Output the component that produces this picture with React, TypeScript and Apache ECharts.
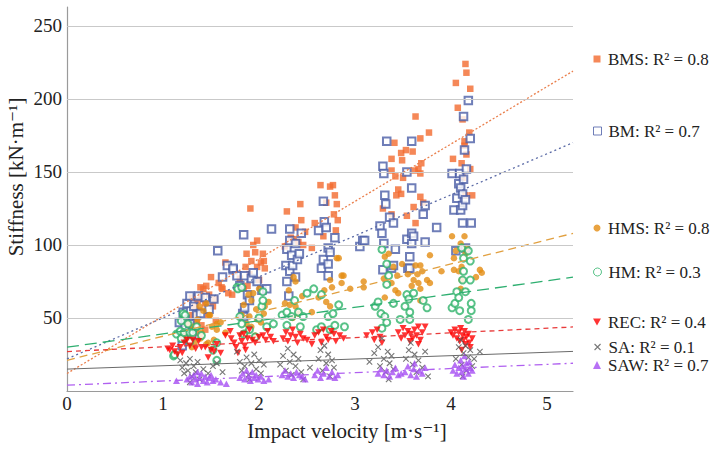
import React, { useEffect, useRef } from "react";
import * as echarts from "echarts";

const seriesNames = ["BMS", "BM", "HMS", "HM", "REC", "SA", "SAW"];
const r2Values = ["0.8", "0.7", "0.8", "0.3", "0.4", "0.1", "0.7"];
const trendIntercepts = [12, 22, 21, 30, 27, 15, 4];
const trendSlopes = [39.3, 28.1, 16.5, 9.1, 3.2, 2.3, 2.85];
const yTicks = [50, 100, 150, 200, 250];
const xMaxValue = 5.27;

const bmsData = [
  [1.25, 38], [1.28, 45], [1.3, 52], [1.3, 64], [1.32, 58], [1.34, 40], [1.35, 48], [1.36, 62], [1.38, 55], [1.39, 71],
  [1.4, 65], [1.4, 45], [1.42, 70], [1.44, 60], [1.44, 42], [1.45, 72], [1.47, 52], [1.48, 66], [1.5, 78], [1.52, 58],
  [1.54, 63], [1.55, 48], [1.58, 74], [1.61, 71], [1.62, 70], [1.65, 88], [1.68, 67],
  [1.72, 66], [1.8, 77], [1.84, 70], [1.86, 85], [1.87, 94], [1.88, 72], [1.9, 80], [1.91, 125], [1.92, 89], [1.94, 100],
  [1.96, 95], [1.98, 103], [1.98, 85], [2.0, 76], [2.02, 88], [2.04, 94], [2.05, 89], [2.06, 84],
  [2.27, 99], [2.29, 123], [2.33, 105], [2.36, 104], [2.38, 112], [2.41, 102], [2.43, 128], [2.44, 117], [2.46, 100],
  [2.48, 109], [2.55, 98], [2.58, 115], [2.64, 141], [2.67, 106], [2.7, 129], [2.74, 140], [2.77, 141], [2.78, 121],
  [2.79, 134], [2.8, 110], [2.81, 128], [2.82, 117],
  [3.29, 125], [3.38, 159], [3.38, 151], [3.38, 121], [3.41, 170], [3.42, 147], [3.43, 134], [3.45, 138], [3.48, 163],
  [3.48, 135], [3.49, 158], [3.5, 146], [3.53, 165], [3.54, 120], [3.6, 164], [3.61, 126], [3.62, 151], [3.63, 188],
  [3.63, 115], [3.66, 152], [3.68, 173], [3.68, 149], [3.68, 133], [3.69, 156], [3.71, 129], [3.77, 177],
  [4.02, 159], [4.05, 211], [4.07, 194], [4.11, 156], [4.12, 186], [4.12, 146], [4.14, 171], [4.14, 168], [4.15, 224],
  [4.15, 134], [4.16, 218], [4.16, 162], [4.19, 177], [4.2, 207], [4.2, 152], [4.22, 134],
];

const bmData = [
  [1.17, 47], [1.2, 31], [1.21, 54], [1.23, 44], [1.23, 49], [1.25, 60], [1.28, 46], [1.28, 65], [1.3, 38], [1.32, 58],
  [1.35, 52], [1.37, 65], [1.39, 53], [1.44, 64], [1.48, 56], [1.53, 63], [1.57, 96], [1.62, 78], [1.67, 86], [1.73, 83],
  [1.73, 84], [1.77, 79], [1.8, 72], [1.83, 53], [1.84, 107], [1.84, 51], [1.85, 79], [1.85, 57], [1.88, 66], [1.9, 62],
  [1.92, 77], [1.94, 81], [1.98, 75], [2.03, 69], [2.08, 70], [2.13, 111],
  [2.28, 86], [2.29, 97], [2.29, 75], [2.31, 65], [2.32, 111], [2.32, 103], [2.32, 82], [2.34, 93], [2.35, 86], [2.38, 101],
  [2.38, 78], [2.4, 90], [2.42, 94], [2.44, 108], [2.62, 110], [2.65, 84], [2.67, 130], [2.67, 90], [2.68, 116], [2.7, 112],
  [2.72, 98], [2.72, 79], [2.72, 87], [2.74, 95], [2.79, 105],
  [3.05, 99], [3.08, 103], [3.1, 103], [3.26, 113], [3.28, 108], [3.29, 154], [3.29, 83], [3.3, 149], [3.3, 101], [3.31, 134],
  [3.32, 128], [3.33, 171], [3.36, 119], [3.38, 84], [3.4, 115], [3.4, 86], [3.42, 97], [3.54, 150], [3.54, 104], [3.55, 84],
  [3.57, 84], [3.57, 92], [3.59, 171], [3.59, 139], [3.59, 108], [3.59, 101], [3.61, 106], [3.71, 121], [3.73, 127],
  [3.73, 102], [3.85, 112],
  [4.01, 149], [4.03, 124], [4.05, 96], [4.06, 132], [4.08, 142], [4.09, 149], [4.1, 139], [4.1, 124], [4.12, 135],
  [4.12, 127], [4.12, 115], [4.13, 188], [4.13, 145], [4.14, 165], [4.15, 131], [4.15, 98], [4.16, 152], [4.18, 199],
  [4.2, 173], [4.21, 115],
];

const hmsData = [
  [1.2, 38], [1.26, 46], [1.3, 30], [1.31, 44], [1.33, 33], [1.36, 49], [1.38, 58], [1.39, 36], [1.4, 40], [1.42, 55],
  [1.45, 60], [1.45, 32], [1.47, 33], [1.48, 52], [1.49, 52], [1.51, 44], [1.53, 35], [1.56, 42], [1.56, 46], [1.6, 47],
  [1.65, 40],
  [1.82, 52], [1.84, 59], [1.86, 40], [1.87, 46], [1.89, 66], [1.9, 51], [1.92, 62], [1.92, 44], [1.94, 67], [1.96, 38],
  [1.97, 56], [1.98, 49], [2.0, 70], [2.02, 47], [2.05, 53], [2.06, 58], [2.1, 61],
  [2.27, 60], [2.31, 69], [2.32, 59], [2.35, 50], [2.36, 78], [2.38, 75], [2.38, 58], [2.41, 53], [2.45, 65], [2.55, 54],
  [2.62, 64], [2.68, 69], [2.7, 61], [2.74, 76], [2.74, 58], [2.76, 71], [2.81, 91], [2.83, 91], [2.86, 79], [2.86, 74],
  [2.88, 79], [2.95, 70], [3.09, 75], [3.09, 71],
  [3.3, 77], [3.31, 92], [3.31, 64], [3.35, 94], [3.38, 74], [3.4, 85], [3.42, 69], [3.44, 79], [3.45, 67], [3.49, 87],
  [3.55, 80], [3.59, 72], [3.61, 76], [3.63, 86], [3.65, 80], [3.66, 74], [3.68, 86], [3.68, 70], [3.68, 62], [3.7, 82],
  [3.75, 76], [3.78, 93], [3.78, 74],
  [3.9, 82], [4.01, 106], [4.03, 91], [4.03, 83], [4.05, 96], [4.08, 82], [4.1, 101], [4.1, 70], [4.11, 85], [4.11, 76],
  [4.14, 106], [4.15, 94], [4.16, 98], [4.26, 78], [4.3, 83], [4.32, 81],
];

const hmData = [
  [1.11, 24], [1.12, 25], [1.14, 39], [1.18, 41], [1.19, 48], [1.19, 36], [1.21, 53], [1.22, 40], [1.23, 52], [1.26, 46],
  [1.28, 34], [1.28, 40], [1.31, 40], [1.35, 44], [1.4, 38], [1.52, 28], [1.56, 33], [1.56, 21], [1.77, 71],
  [1.78, 70], [1.8, 51], [1.82, 71], [1.82, 46], [1.84, 39], [1.9, 42], [1.96, 37], [2.0, 50], [2.03, 58], [2.04, 68],
  [2.04, 62], [2.08, 44], [2.15, 46],
  [2.24, 52], [2.29, 54], [2.29, 45], [2.34, 51], [2.37, 62], [2.41, 54], [2.43, 44], [2.46, 51], [2.5, 67], [2.57, 70],
  [2.6, 42], [2.65, 66], [2.65, 44], [2.72, 51], [2.74, 42], [2.77, 53], [2.79, 45], [2.83, 59], [2.89, 44],
  [3.21, 58], [3.24, 61], [3.27, 53], [3.28, 43], [3.28, 97], [3.31, 51], [3.33, 47], [3.33, 73], [3.33, 87], [3.35, 79],
  [3.4, 60], [3.47, 49], [3.52, 58], [3.54, 66], [3.56, 63], [3.57, 54], [3.57, 49], [3.61, 67], [3.71, 62], [3.75, 57],
  [4.01, 57], [4.04, 60], [4.06, 68], [4.08, 64], [4.09, 55], [4.11, 98], [4.12, 76], [4.13, 91], [4.13, 82], [4.15, 68],
  [4.18, 96], [4.18, 49], [4.2, 89], [4.2, 76], [4.21, 60], [4.21, 55],
];

const recData = [
  [1.05, 29], [1.07, 28], [1.1, 31], [1.12, 27], [1.15, 25], [1.18, 30], [1.2, 26], [1.22, 33], [1.25, 35], [1.28, 31],
  [1.31, 35], [1.34, 29], [1.37, 34], [1.4, 30], [1.44, 30], [1.47, 23], [1.5, 28], [1.53, 27], [1.56, 32], [1.6, 26],
  [1.65, 38], [1.7, 41], [1.71, 36], [1.74, 33],
  [1.76, 30], [1.78, 26], [1.8, 38], [1.82, 34], [1.84, 39], [1.85, 31], [1.86, 28], [1.88, 36], [1.9, 42], [1.93, 35],
  [1.96, 33], [2.0, 37], [2.04, 38], [2.07, 35], [2.09, 41], [2.12, 37], [2.15, 34],
  [2.25, 36], [2.28, 40], [2.3, 34], [2.33, 38], [2.35, 42], [2.38, 37], [2.4, 33], [2.43, 39], [2.46, 36], [2.5, 35],
  [2.55, 32], [2.58, 38], [2.62, 40], [2.65, 33], [2.67, 42], [2.7, 37], [2.72, 35], [2.75, 41], [2.78, 39], [2.8, 34],
  [2.84, 38], [2.88, 36],
  [3.12, 38], [3.18, 40], [3.2, 35], [3.23, 42], [3.26, 37], [3.28, 33], [3.45, 40], [3.48, 36], [3.5, 43], [3.52, 38],
  [3.55, 41], [3.57, 34], [3.58, 39], [3.6, 36], [3.62, 42], [3.64, 38], [3.66, 44], [3.66, 32], [3.68, 35], [3.7, 40],
  [3.73, 44],
  [4.0, 40], [4.02, 38], [4.04, 42], [4.06, 36], [4.08, 40], [4.09, 34], [4.1, 43], [4.11, 28], [4.12, 38], [4.13, 35],
  [4.14, 41], [4.15, 32], [4.16, 37], [4.18, 39], [4.19, 33], [4.2, 30], [4.22, 36],
];

const saData = [
  [1.18, 21], [1.2, 16], [1.22, 12], [1.24, 19], [1.26, 14], [1.28, 22], [1.28, 6], [1.3, 10], [1.32, 17], [1.34, 13],
  [1.36, 20], [1.38, 8], [1.42, 15], [1.47, 12], [1.52, 17], [1.56, 19], [1.62, 13],
  [1.77, 27], [1.8, 20], [1.82, 14], [1.85, 17], [1.87, 23], [1.89, 11], [1.9, 8], [1.92, 19], [1.95, 25], [1.97, 15],
  [2.0, 21], [2.02, 12], [2.05, 18],
  [2.22, 18], [2.25, 24], [2.28, 14], [2.3, 29], [2.32, 20], [2.34, 11], [2.36, 25], [2.38, 17], [2.41, 22], [2.44, 13],
  [2.46, 8], [2.53, 16], [2.62, 22], [2.64, 28], [2.66, 14], [2.68, 31], [2.7, 19], [2.72, 25], [2.74, 10], [2.76, 21],
  [2.78, 16],
  [3.15, 20], [3.2, 26], [3.24, 30], [3.26, 17], [3.28, 36], [3.3, 22], [3.32, 13], [3.34, 27], [3.35, 8], [3.36, 19],
  [3.38, 24], [3.4, 15], [3.53, 22], [3.56, 28], [3.58, 33], [3.6, 18], [3.62, 25], [3.64, 13], [3.66, 21], [3.7, 16],
  [3.73, 27], [3.76, 10],
  [4.05, 22], [4.08, 30], [4.1, 35], [4.11, 18], [4.12, 10], [4.13, 26], [4.15, 31], [4.16, 14], [4.18, 23], [4.2, 28],
  [4.22, 17], [4.24, 22], [4.3, 27],
];

const sawData = [
  [1.14, 7], [1.25, 8], [1.28, 10], [1.3, 6], [1.32, 11], [1.34, 8], [1.36, 5], [1.36, 13], [1.38, 9], [1.4, 12],
  [1.42, 7], [1.44, 10], [1.46, 6], [1.48, 9], [1.5, 11], [1.52, 7], [1.55, 8], [1.6, 6], [1.66, 5],
  [1.8, 9], [1.83, 12], [1.85, 8], [1.87, 14], [1.89, 10], [1.91, 7], [1.93, 13], [1.95, 9], [1.97, 11], [1.99, 8],
  [2.02, 10], [2.05, 7], [2.1, 8],
  [2.24, 11], [2.27, 14], [2.3, 10], [2.33, 12], [2.36, 9], [2.39, 13], [2.42, 11], [2.45, 10], [2.48, 8], [2.58, 11],
  [2.61, 14], [2.64, 9], [2.67, 12], [2.7, 16], [2.73, 10], [2.76, 13], [2.79, 9], [2.82, 11],
  [3.24, 12], [3.27, 15], [3.3, 11], [3.33, 14], [3.36, 10], [3.39, 13], [3.42, 16], [3.45, 11], [3.48, 12], [3.52, 13],
  [3.55, 17], [3.58, 11], [3.61, 15], [3.62, 19], [3.64, 10], [3.67, 14], [3.7, 12], [3.73, 16],
  [4.02, 14], [4.04, 18], [4.06, 12], [4.08, 16], [4.1, 21], [4.11, 13], [4.12, 17], [4.13, 10], [4.14, 24], [4.15, 15],
  [4.16, 19], [4.18, 12], [4.19, 20], [4.2, 16], [4.22, 14],
];

const allData = [bmsData, bmData, hmsData, hmData, recData, saData, sawData];

const FONT = "'Liberation Serif', 'DejaVu Serif', serif";
const CROSS = "path://M0 0L10 10M10 0L0 10";
const DOWN_TRI = "path://M0 0L10 0L5 9Z";

const seriesColors = ["#f26a2e", "#4b5ea6", "#e38c12", "#2fb36a", "#ff0000", "#555555", "#a54df2"];

const markerStyles: any[] = [
  { symbol: "rect", symbolSize: 6.5, itemStyle: { color: seriesColors[0] } },
  { symbol: "emptyRect", symbolSize: 7.5, itemStyle: { color: seriesColors[1], borderWidth: 1 } },
  { symbol: "circle", symbolSize: 6.5, itemStyle: { color: seriesColors[2] } },
  { symbol: "emptyCircle", symbolSize: 7, itemStyle: { color: seriesColors[3], borderWidth: 1 } },
  { symbol: DOWN_TRI, symbolSize: [7, 6.5], itemStyle: { color: seriesColors[4] } },
  {
    symbol: CROSS,
    symbolSize: 5.5,
    itemStyle: { color: "rgba(0,0,0,0)", borderColor: seriesColors[5], borderWidth: 1.1 },
  },
  { symbol: "triangle", symbolSize: [7, 6.5], itemStyle: { color: seriesColors[6] } },
];

const legendIcons = ["rect", "rect", "circle", "circle", DOWN_TRI, CROSS, "triangle"];
const legendIconSizes = [7, 8, 7, 8, 8, 6, 8];
const legendItemStyles: any[] = [
  { color: seriesColors[0], borderWidth: 0 },
  { color: "#ffffff", borderColor: seriesColors[1], borderWidth: 1 },
  { color: seriesColors[2], borderWidth: 0 },
  { color: "#ffffff", borderColor: seriesColors[3], borderWidth: 1 },
  { color: seriesColors[4], borderWidth: 0 },
  { color: "rgba(0,0,0,0)", borderColor: seriesColors[5], borderWidth: 1.1 },
  { color: seriesColors[6], borderWidth: 0 },
];

const trendStyles: any[] = [
  { color: "#ea7f4c", type: [2, 2], width: 1.3 },
  { color: "#5a6aa6", type: [2, 3], width: 1.3 },
  { color: "#e1a040", type: [8, 5], width: 1.3 },
  { color: "#2eaf70", type: [12, 6], width: 1.3 },
  { color: "#e83a3a", type: [5, 4], width: 1.3 },
  { color: "#6a6a6a", type: "solid", width: 1 },
  { color: "#b060f0", type: [8, 4, 2, 4], width: 1.3 },
];

const legendCenters = [59, 131, 228, 272, 322, 347, 365];

export default function App() {
  const ref = useRef<HTMLDivElement>(null);

  useEffect(() => {
    if (!ref.current) return;
    const chart = echarts.init(ref.current, null, { renderer: "svg" });

    const labels = seriesNames.map((n, i) => `${n}: R² = ${r2Values[i]}`);

    const scatterSeries = allData.map((d, i) => ({
      name: labels[i],
      type: "scatter",
      data: d,
      z: 3,
      ...markerStyles[i],
    }));

    const trendSeries = seriesNames.map((n, i) => ({
      name: `${n} trend`,
      type: "line",
      showSymbol: false,
      symbol: "none",
      z: 4,
      data: [
        [0, trendIntercepts[i]],
        [xMaxValue, trendIntercepts[i] + trendSlopes[i] * xMaxValue],
      ],
      lineStyle: trendStyles[i],
      silent: true,
    }));

    const gridSeries = {
      name: "grid",
      type: "line",
      data: [],
      z: 1,
      silent: true,
      markLine: {
        silent: true,
        symbol: "none",
        label: { show: false },
        lineStyle: { color: "#c9c9c9", type: "solid", width: 1.2 },
        data: yTicks.map((v) => ({ yAxis: v })),
      },
    };

    const legends = labels.map((l, i) => {
      const s = legendIconSizes[i];
      return {
        data: [{ name: l, icon: legendIcons[i], itemStyle: legendItemStyles[i] }],
        left: 597 - s / 2,
        top: legendCenters[i] - 9,
        itemWidth: s,
        itemHeight: s,
        selectedMode: false,
        padding: 0,
        itemStyle: legendItemStyles[i],
        textStyle: {
          fontFamily: FONT,
          fontSize: 17,
          lineHeight: 18,
          color: "#222",
          padding: [0, 0, 0, Math.max(0, 6 - s / 2)],
        },
      };
    });

    chart.setOption({
      animation: false,
      backgroundColor: "#ffffff",
      grid: { left: 67, right: 150, top: 7, bottom: 58, containLabel: false },
      xAxis: {
        type: "value",
        min: 0,
        max: xMaxValue,
        interval: 1,
        axisLine: { show: true, lineStyle: { color: "#9a9a9a", width: 1.2 } },
        axisTick: { show: false },
        splitLine: { show: false },
        axisLabel: {
          fontFamily: FONT,
          fontSize: 19,
          color: "#222",
          margin: 3,
          formatter: (v: number) => (Number.isInteger(v) ? String(v) : ""),
        },
      },
      yAxis: {
        type: "value",
        min: 0,
        max: 263,
        interval: 50,
        axisLine: { show: true, lineStyle: { color: "#9a9a9a", width: 1.2 } },
        axisTick: { show: false },
        splitLine: { show: false },
        axisLabel: {
          fontFamily: FONT,
          fontSize: 19,
          color: "#222",
          margin: 5,
          formatter: (v: number) => (yTicks.includes(v) ? String(v) : ""),
        },
      },
      legend: legends,
      graphic: [
        {
          type: "text",
          x: 16,
          y: 177,
          rotation: Math.PI / 2,
          style: {
            text: "Stiffness [kN·m⁻¹]",
            fontFamily: FONT,
            fontSize: 21,
            fill: "#222",
            align: "center",
            verticalAlign: "middle",
          },
        },
        {
          type: "text",
          x: 347,
          y: 431,
          style: {
            text: "Impact velocity [m·s⁻¹]",
            fontFamily: FONT,
            fontSize: 21,
            fill: "#222",
            align: "center",
            verticalAlign: "middle",
          },
        },
      ],
      series: [gridSeries, ...scatterSeries, ...trendSeries],
    });

    return () => chart.dispose();
  }, []);

  return <div ref={ref} style={{ width: 723, height: 449, position: "absolute", left: 0, top: 0 }} />;
}
